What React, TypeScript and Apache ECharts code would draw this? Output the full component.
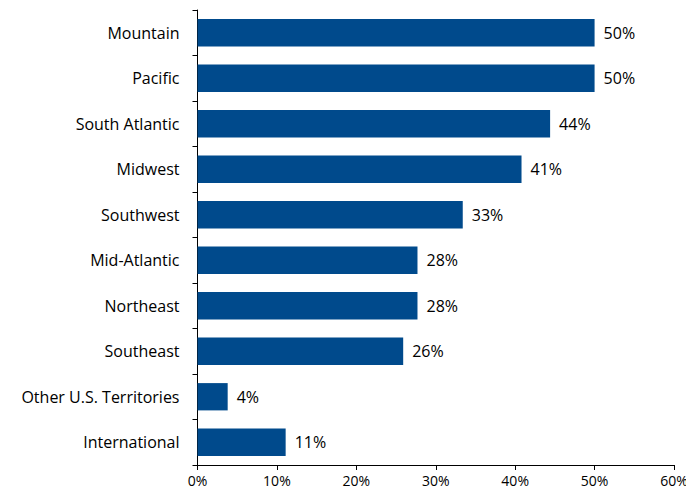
import React, { useEffect, useRef } from "react";
import * as echarts from "echarts";

const categories = [
  "Mountain",
  "Pacific",
  "South Atlantic",
  "Midwest",
  "Southwest",
  "Mid-Atlantic",
  "Northeast",
  "Southeast",
  "Other U.S. Territories",
  "International",
];
const values = [50, 50, 44.4, 40.8, 33.4, 27.7, 27.7, 25.9, 3.8, 11.1];
const xTicks = [0, 10, 20, 30, 40, 50, 60];

export default function App() {
  const ref = useRef<HTMLDivElement>(null);
  useEffect(() => {
    if (!ref.current) return;
    const chart = echarts.init(ref.current, null, { renderer: "svg" });
    const font = "'Open Sans', Lato, sans-serif";
    chart.setOption({
      animation: false,
      textStyle: { fontFamily: font },
      grid: {
        left: 197.5,
        right: 12,
        top: 10,
        bottom: 27,
        containLabel: false,
        outerBoundsMode: "none",
      },
      xAxis: {
        type: "value",
        min: xTicks[0],
        max: xTicks[xTicks.length - 1],
        interval: 10,
        axisLine: { show: true, lineStyle: { color: "#000", width: 1 } },
        axisTick: { show: true, inside: false, length: 5, lineStyle: { color: "#000" } },
        splitLine: { show: false },
        axisLabel: {
          formatter: (v: number) => v + "%",
          color: "#000",
          fontSize: 14,
          fontFamily: font,
          margin: 8,
        },
      },
      yAxis: {
        type: "category",
        data: categories,
        inverse: true,
        axisLine: { show: true, lineStyle: { color: "#000", width: 1 } },
        axisTick: { show: true, inside: false, length: 5, alignWithLabel: false, lineStyle: { color: "#000" } },
        axisLabel: { color: "#000", fontSize: 16, fontFamily: font, margin: 18 },
      },
      series: [
        {
          type: "bar",
          data: values,
          barCategoryGap: "40%",
          itemStyle: { color: "#004A8C" },
          label: {
            show: true,
            position: "right",
            distance: 9,
            formatter: (p: any) => Math.round(p.value) + "%",
            color: "#000",
            fontSize: 16,
            fontFamily: font,
          },
        },
      ],
    });
    return () => chart.dispose();
  }, []);
  return (
    <div
      ref={ref}
      style={{ position: "fixed", left: 0, top: 0, width: 686, height: 492, background: "#fff" }}
    />
  );
}
